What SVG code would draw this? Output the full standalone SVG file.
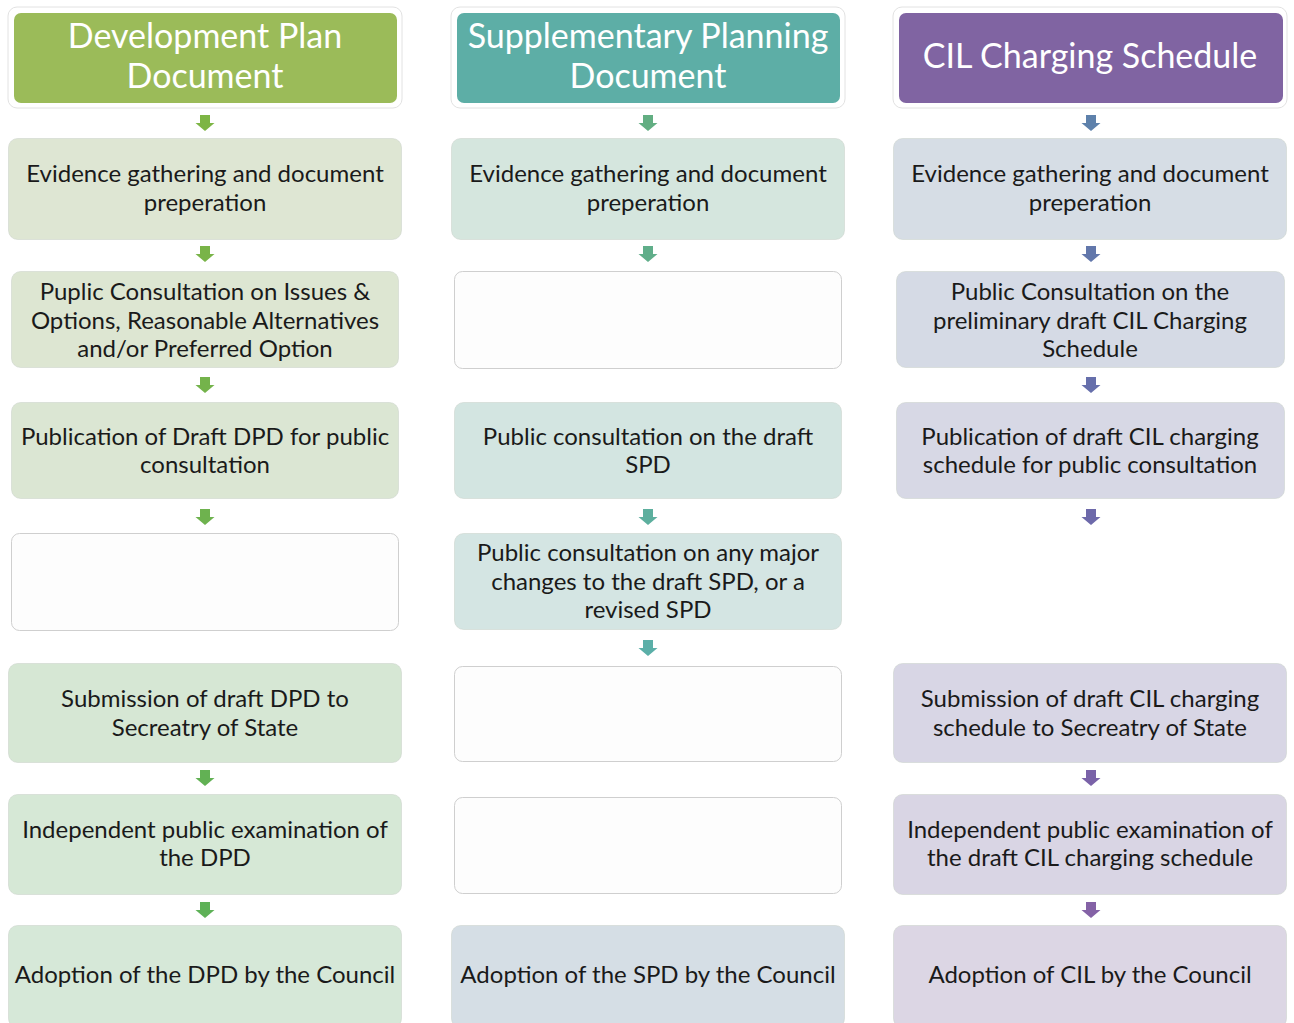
<svg xmlns="http://www.w3.org/2000/svg" width="1294" height="1023" viewBox="0 0 1294 1023">
<style>
.t{font-family:Lato,"Open Sans","Liberation Sans",sans-serif;font-size:24px;fill:#1a1a1a;text-anchor:middle}
.h{font-family:Lato,"Open Sans","Liberation Sans",sans-serif;font-size:34px;fill:#ffffff;text-anchor:middle}
.frame{fill:#ffffff;stroke:#e2e2e2;stroke-width:1}
.box{stroke:#c8cfc8;stroke-opacity:0.5;stroke-width:1}
.empty{fill:#fdfdfd;stroke:#cfcfcf;stroke-width:1}
</style>
<defs>
<path id="arr" d="M-5,0 H5 V8 H9.5 L0,16 L-9.5,8 H-5 Z"/>
</defs>
<rect width="1294" height="1023" fill="#ffffff"/>

<!-- Column 1 -->
<g id="dpd-header"><rect class="frame" x="8" y="7" width="394" height="101" rx="9"/><rect x="14" y="13" width="383" height="90" rx="7" fill="#9bbb59"/><text class="h" x="205" y="48">Development Plan</text><text class="h" x="205" y="88">Document</text></g>
<g id="dpd-1"><rect class="box" x="8.5" y="138.5" width="393" height="101" rx="9" fill="#dee6d3"/><text class="t" x="205" y="182">Evidence gathering and document</text><text class="t" x="205" y="211">preperation</text></g>
<g id="dpd-2"><rect class="box" x="11.5" y="271.5" width="387" height="96" rx="9" fill="#dde6d2"/><text class="t" x="205" y="300">Puplic Consultation on Issues &amp;</text><text class="t" x="205" y="329">Options, Reasonable Alternatives</text><text class="t" x="205" y="357">and/or Preferred Option</text></g>
<g id="dpd-3"><rect class="box" x="11.5" y="402.5" width="387" height="96" rx="9" fill="#dbe6d3"/><text class="t" x="205" y="445">Publication of Draft DPD for public</text><text class="t" x="205" y="473">consultation</text></g>
<g id="dpd-4"><rect class="empty" x="11.5" y="533.5" width="387" height="97" rx="8"/></g>
<g id="dpd-5"><rect class="box" x="8.5" y="663.5" width="393" height="99" rx="9" fill="#d6e7d4"/><text class="t" x="205" y="707">Submission of draft DPD to</text><text class="t" x="205" y="736">Secreatry of State</text></g>
<g id="dpd-6"><rect class="box" x="8.5" y="794.5" width="393" height="100" rx="9" fill="#d6e8d6"/><text class="t" x="205" y="838">Independent public examination of</text><text class="t" x="205" y="866">the DPD</text></g>
<g id="dpd-7"><rect class="box" x="8.5" y="925.5" width="393" height="102" rx="9" fill="#d6e8d8"/><text class="t" x="205" y="983">Adoption of the DPD by the Council</text></g>

<!-- Column 2 -->
<g id="spd-header"><rect class="frame" x="451" y="7" width="394" height="101" rx="9"/><rect x="457" y="13" width="383" height="90" rx="7" fill="#5daea6"/><text class="h" x="648" y="48">Supplementary Planning</text><text class="h" x="648" y="88">Document</text></g>
<g id="spd-1"><rect class="box" x="451.5" y="138.5" width="393" height="101" rx="9" fill="#d5e6de"/><text class="t" x="648" y="182">Evidence gathering and document</text><text class="t" x="648" y="211">preperation</text></g>
<g id="spd-2"><rect class="empty" x="454.5" y="271.5" width="387" height="97" rx="8"/></g>
<g id="spd-3"><rect class="box" x="454.5" y="402.5" width="387" height="96" rx="9" fill="#d3e5e1"/><text class="t" x="648" y="445">Public consultation on  the draft</text><text class="t" x="648" y="473">SPD</text></g>
<g id="spd-4"><rect class="box" x="454.5" y="533.5" width="387" height="96" rx="9" fill="#d4e5e3"/><text class="t" x="648" y="561">Public consultation on any major</text><text class="t" x="648" y="590">changes to the draft SPD, or a</text><text class="t" x="648" y="618">revised SPD</text></g>
<g id="spd-5"><rect class="empty" x="454.5" y="666.5" width="387" height="95" rx="8"/></g>
<g id="spd-6"><rect class="empty" x="454.5" y="797.5" width="387" height="96" rx="8"/></g>
<g id="spd-7"><rect class="box" x="451.5" y="925.5" width="393" height="102" rx="9" fill="#d5dee5"/><text class="t" x="648" y="983">Adoption of the SPD by the Council</text></g>

<!-- Column 3 -->
<g id="cil-header"><rect class="frame" x="893" y="7" width="394" height="101" rx="9"/><rect x="899" y="13" width="384" height="90" rx="7" fill="#8064a2"/><text class="h" x="1090" y="68">CIL Charging Schedule</text></g>
<g id="cil-1"><rect class="box" x="893.5" y="138.5" width="393" height="101" rx="9" fill="#d6dde5"/><text class="t" x="1090" y="182">Evidence gathering and document</text><text class="t" x="1090" y="211">preperation</text></g>
<g id="cil-2"><rect class="box" x="896.5" y="271.5" width="388" height="96" rx="9" fill="#d5dae5"/><text class="t" x="1090" y="300">Public Consultation on the</text><text class="t" x="1090" y="329">preliminary draft CIL Charging</text><text class="t" x="1090" y="357">Schedule</text></g>
<g id="cil-3"><rect class="box" x="896.5" y="402.5" width="388" height="96" rx="9" fill="#d7d8e5"/><text class="t" x="1090" y="445">Publication of draft CIL charging</text><text class="t" x="1090" y="473">schedule for public consultation</text></g>
<g id="cil-5"><rect class="box" x="893.5" y="663.5" width="393" height="99" rx="9" fill="#d8d6e5"/><text class="t" x="1090" y="707">Submission of draft CIL charging</text><text class="t" x="1090" y="736">schedule to Secreatry of State</text></g>
<g id="cil-6"><rect class="box" x="893.5" y="794.5" width="393" height="100" rx="9" fill="#d9d5e4"/><text class="t" x="1090" y="838">Independent public examination of</text><text class="t" x="1090" y="866">the draft CIL charging schedule</text></g>
<g id="cil-7"><rect class="box" x="893.5" y="925.5" width="393" height="102" rx="9" fill="#dcd6e4"/><text class="t" x="1090" y="983">Adoption of CIL by the Council</text></g>

<!-- Connectors -->
<g id="connectors">
<use href="#arr" x="205" y="115" fill="#7db545"/>
<use href="#arr" x="205" y="246" fill="#79b448"/>
<use href="#arr" x="205" y="377" fill="#74b34b"/>
<use href="#arr" x="205" y="509" fill="#6eb24e"/>
<use href="#arr" x="205" y="770" fill="#62b154"/>
<use href="#arr" x="205" y="902" fill="#5eb157"/>
<use href="#arr" x="648" y="115" fill="#62ae82"/>
<use href="#arr" x="648" y="246" fill="#60ae8a"/>
<use href="#arr" x="648" y="509" fill="#5daf9e"/>
<use href="#arr" x="648" y="640" fill="#5bafa8"/>
<use href="#arr" x="1091" y="115" fill="#5e81ab"/>
<use href="#arr" x="1091" y="246" fill="#6277ab"/>
<use href="#arr" x="1091" y="377" fill="#666fab"/>
<use href="#arr" x="1091" y="509" fill="#6d69aa"/>
<use href="#arr" x="1091" y="770" fill="#7a62a8"/>
<use href="#arr" x="1091" y="902" fill="#8462a6"/>
</g>
</svg>
